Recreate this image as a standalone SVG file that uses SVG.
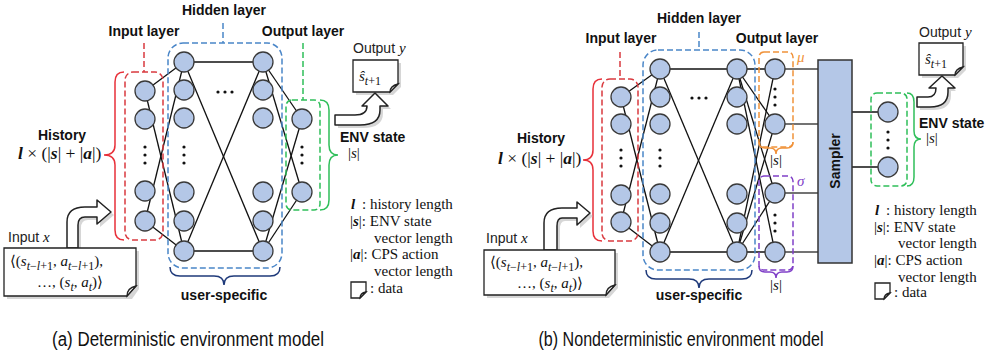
<svg xmlns="http://www.w3.org/2000/svg" width="986" height="360" viewBox="0 0 986 360">
<style>
.node{fill:#b4c7e7;stroke:#3a3a3a;stroke-width:1.3}
.ln{stroke:#111;stroke-width:1.3;fill:none}
.ln2{stroke:#444;stroke-width:1.6;fill:none}
.dot{fill:#111}
.lbl{font-family:"Liberation Sans",Arial,sans-serif;font-weight:bold;font-size:14px;fill:#111}
.sans{font-family:"Liberation Sans",Arial,sans-serif;font-size:14px;fill:#222}
.serif{font-family:"Liberation Serif","DejaVu Serif",serif;font-size:15px;fill:#111}
.math{font-size:17.5px}
.bi{font-weight:bold;font-style:italic}
.it{font-style:italic}
.dash{fill:none;stroke-width:1.5;stroke-dasharray:6 3}
.brace{fill:none;stroke-width:1.5}
.doc{fill:#fff;stroke:#222;stroke-width:1.3}
.arrow{fill:#fff;stroke:#222;stroke-width:1.5;stroke-linejoin:round}
.shadow{fill:#bbb;opacity:0.6}
.cap{font-family:"Liberation Sans",Arial,sans-serif;font-size:20px;fill:#111}
</style>
<defs>
<g id="dots3v"><circle class="dot" cx="0" cy="-8" r="1.6"/><circle class="dot" cx="0" cy="0" r="1.6"/><circle class="dot" cx="0" cy="8" r="1.6"/></g>
<g id="dots3h"><circle class="dot" cx="-7" cy="0" r="1.6"/><circle class="dot" cx="0" cy="0" r="1.6"/><circle class="dot" cx="7" cy="0" r="1.6"/></g>
</defs>

<!-- ===================== PANEL (a) ===================== -->
<g id="connectors-a">
<line class="ln" x1="145" y1="91" x2="184" y2="62"/>
<line class="ln" x1="145" y1="91" x2="184" y2="251"/>
<line class="ln" x1="145" y1="221" x2="184" y2="62"/>
<line class="ln" x1="145" y1="221" x2="184" y2="251"/>
<line class="ln" x1="184" y1="62" x2="263" y2="62"/>
<line class="ln" x1="184" y1="251" x2="263" y2="251"/>
<line class="ln" x1="184" y1="62" x2="263" y2="251"/>
<line class="ln" x1="184" y1="251" x2="263" y2="62"/>
<line class="ln" x1="263" y1="62" x2="302" y2="119"/>
<line class="ln" x1="263" y1="62" x2="302" y2="192"/>
<line class="ln" x1="263" y1="251" x2="302" y2="119"/>
<line class="ln" x1="263" y1="251" x2="302" y2="192"/>
</g>

<g id="groups-a">
<rect class="dash" x="125" y="72" width="38" height="168" rx="8" stroke="#d93a3f"/>
<line class="dash" x1="144" y1="43" x2="144" y2="72" stroke="#d93a3f"/>
<rect class="dash" x="168" y="43" width="114" height="225" rx="15" stroke="#4a86c8"/>
<line class="dash" x1="223" y1="23" x2="223" y2="43" stroke="#4a86c8"/>
<rect class="dash" x="286" y="100" width="34" height="110" rx="6" stroke="#2fbf5a"/>
<line class="dash" x1="303" y1="43" x2="303" y2="100" stroke="#2fbf5a"/>
<path class="brace" stroke="#e8313a" d="M124,72 Q115,72 115,82 L115,145 Q115,155 104,155 Q115,155 115,165 L115,230 Q115,240 124,240"/>
<path class="brace" stroke="#2fbf5a" d="M320,100 Q329,100 329,110 L329,145 Q329,155 338,155 Q329,155 329,165 L329,200 Q329,210 320,210"/>
<path class="brace" stroke="#1f3a7a" d="M170,267 Q170,276 180,276 L214,276 Q224,276 224,285 Q224,276 234,276 L270,276 Q280,276 280,267"/>
</g>

<g id="in-a1"><circle class="node" cx="145" cy="91" r="10"/></g>
<g id="in-a2"><circle class="node" cx="145" cy="119" r="10"/></g>
<g id="in-a3"><circle class="node" cx="145" cy="191" r="10"/></g>
<g id="in-a4"><circle class="node" cx="145" cy="221" r="10"/></g>
<use href="#dots3v" x="145" y="155"/>
<g id="h1-a1"><circle class="node" cx="184" cy="62" r="10"/></g>
<g id="h1-a2"><circle class="node" cx="184" cy="90" r="10"/></g>
<g id="h1-a3"><circle class="node" cx="184" cy="118" r="10"/></g>
<g id="h1-a4"><circle class="node" cx="184" cy="192" r="10"/></g>
<g id="h1-a5"><circle class="node" cx="184" cy="221" r="10"/></g>
<g id="h1-a6"><circle class="node" cx="184" cy="251" r="10"/></g>
<use href="#dots3v" x="184" y="155"/>
<g id="h2-a1"><circle class="node" cx="263" cy="62" r="10"/></g>
<g id="h2-a2"><circle class="node" cx="263" cy="90" r="10"/></g>
<g id="h2-a3"><circle class="node" cx="263" cy="118" r="10"/></g>
<g id="h2-a4"><circle class="node" cx="263" cy="192" r="10"/></g>
<g id="h2-a5"><circle class="node" cx="263" cy="221" r="10"/></g>
<g id="h2-a6"><circle class="node" cx="263" cy="251" r="10"/></g>
<use href="#dots3h" x="225" y="92"/>
<g id="out-a1"><circle class="node" cx="302" cy="119" r="10"/></g>
<g id="out-a2"><circle class="node" cx="302" cy="192" r="10"/></g>
<use href="#dots3v" x="302" y="155"/>

<g id="labels-a">
<text class="lbl" x="144" y="36" text-anchor="middle">Input layer</text>
<text class="lbl" x="224" y="15" text-anchor="middle">Hidden layer</text>
<text class="lbl" x="303" y="36" text-anchor="middle">Output layer</text>
<text class="lbl" x="224" y="300" text-anchor="middle">user-specific</text>
<text class="lbl" x="62" y="140" text-anchor="middle">History</text>
<text class="serif math" x="18" y="159"><tspan class="bi">l</tspan> × (|<tspan class="bi">s</tspan>| + |<tspan class="bi">a</tspan>|)</text>
<text class="lbl" x="340" y="142">ENV state</text>
<text class="serif" x="348" y="158" font-size="16">|<tspan class="it">s</tspan>|</text>
</g>

<g id="output-a">
<text class="sans" x="353" y="53">Output <tspan class="serif it" font-size="16">y</tspan></text>
<path class="shadow" d="M356,63 H401 V87 L393,95 H356 Z"/>
<path class="doc" d="M353,60 H398 V84 L390,92 H353 Z"/>
<path class="doc" d="M398,84 L390,92 Q390,86 398,84 Z"/>
<text class="serif" x="359" y="81" font-size="16"><tspan class="it">ŝ</tspan><tspan class="it" font-size="12" dy="4">t</tspan><tspan font-size="12">+1</tspan></text>
<path class="shadow" d="M338,118 H358 Q370,118 370,109 L365,109 L378,96 L391,109 L383,109 L383,113 Q383,128 363,128 H338 Z"/>
<path class="arrow" d="M335,115 H355 Q367,115 367,106 L362,106 L375,93 L388,106 L380,106 L380,110 Q380,125 360,125 H335 Z"/>
</g>

<g id="input-a">
<text class="sans" x="8" y="242">Input <tspan class="serif it" font-size="16">x</tspan></text>
<path class="shadow" d="M70,251 V225 Q70,210 88,210 H100 V203 L114,215 L100,227 V220 H88 Q81,220 81,228 V251 Z"/>
<path class="arrow" d="M67,248 V222 Q67,207 85,207 H97 V200 L111,212 L97,224 V217 H85 Q78,217 78,225 V248 Z"/>
<path class="shadow" d="M7,251 H139 V289 L132,299 H7 Z"/>
<path class="doc" d="M4,248 H136 V286 L127,296 H4 Z"/>
<path class="doc" d="M136,286 L127,296 Q127,288 136,286 Z"/>
<text class="serif" x="10" y="266" font-size="17.5">⟨(<tspan class="it">s</tspan><tspan class="it" font-size="12" dy="4">t</tspan><tspan font-size="12">−</tspan><tspan class="it" font-size="12">l</tspan><tspan font-size="12">+1</tspan><tspan dy="-4">, </tspan><tspan class="it">a</tspan><tspan class="it" font-size="12" dy="4">t</tspan><tspan font-size="12">−</tspan><tspan class="it" font-size="12">l</tspan><tspan font-size="12">+1</tspan><tspan dy="-4">),</tspan></text>
<text class="serif" x="70" y="287" font-size="17.5" text-anchor="middle">…, (<tspan class="it">s</tspan><tspan class="it" font-size="12" dy="4">t</tspan><tspan dy="-4">, </tspan><tspan class="it">a</tspan><tspan class="it" font-size="12" dy="4">t</tspan><tspan dy="-4">)⟩</tspan></text>
</g>

<g id="legend-a" class="serif" font-size="14.5">
<text x="351" y="209"><tspan class="bi">l</tspan></text>
<text x="362" y="209">: history length</text>
<text x="350" y="226">|<tspan class="bi">s</tspan>|: ENV state</text>
<text x="374" y="243">vector length</text>
<text x="350" y="259">|<tspan class="bi">a</tspan>|: CPS action</text>
<text x="374" y="276">vector length</text>
<path class="doc" d="M351,282 H366 V292 L360,298 H351 Z"/>
<path class="doc" d="M366,292 L360,298 Q360,293 366,292 Z"/>
<text x="370" y="293">: data</text>
</g>

<!-- ===================== PANEL (b) ===================== -->
<g id="connectors-b">
<line class="ln" x1="621" y1="97" x2="660" y2="69"/>
<line class="ln" x1="621" y1="97" x2="660" y2="252"/>
<line class="ln" x1="621" y1="222" x2="660" y2="69"/>
<line class="ln" x1="621" y1="222" x2="660" y2="252"/>
<line class="ln" x1="660" y1="69" x2="737" y2="69"/>
<line class="ln" x1="660" y1="252" x2="737" y2="252"/>
<line class="ln" x1="660" y1="69" x2="737" y2="252"/>
<line class="ln" x1="660" y1="252" x2="737" y2="69"/>
<line class="ln" x1="737" y1="69" x2="775" y2="69"/>
<line class="ln" x1="737" y1="69" x2="775" y2="124"/>
<line class="ln" x1="737" y1="69" x2="775" y2="193"/>
<line class="ln" x1="737" y1="69" x2="775" y2="252"/>
<line class="ln" x1="737" y1="252" x2="775" y2="69"/>
<line class="ln" x1="737" y1="252" x2="775" y2="124"/>
<line class="ln" x1="737" y1="252" x2="775" y2="193"/>
<line class="ln" x1="737" y1="252" x2="775" y2="252"/>
<line class="ln2" x1="775" y1="69" x2="818" y2="69"/>
<line class="ln2" x1="775" y1="124" x2="818" y2="124"/>
<line class="ln2" x1="775" y1="193" x2="818" y2="193"/>
<line class="ln2" x1="775" y1="252" x2="818" y2="252"/>
<line class="ln" x1="852" y1="112" x2="888" y2="112"/>
<line class="ln" x1="852" y1="167" x2="888" y2="167"/>
</g>

<g id="groups-b">
<rect class="dash" x="602" y="79" width="36" height="162" rx="8" stroke="#d93a3f"/>
<line class="dash" x1="620" y1="52" x2="620" y2="79" stroke="#d93a3f"/>
<rect class="dash" x="643" y="50" width="112" height="220" rx="15" stroke="#4a86c8"/>
<line class="dash" x1="699" y1="32" x2="699" y2="50" stroke="#4a86c8"/>
<rect class="dash" x="759" y="52" width="34" height="95" rx="5" stroke="#f0923a"/>
<rect class="dash" x="759" y="176" width="34" height="94" rx="5" stroke="#8040c8"/>
<rect class="dash" x="871" y="93" width="36" height="93" rx="6" stroke="#2fbf5a"/>
<path class="brace" stroke="#e8313a" d="M602,79 Q593,79 593,89 L593,150 Q593,160 583,160 Q593,160 593,170 L593,231 Q593,241 602,241"/>
<path class="brace" stroke="#2fbf5a" d="M907,93 Q914,93 914,102 L914,131 Q914,139 921,139 Q914,139 914,147 L914,177 Q914,186 907,186"/>
<path class="brace" stroke="#1f3a7a" d="M646,270 Q646,279 656,279 L689,279 Q699,279 699,288 Q699,279 709,279 L742,279 Q752,279 752,270"/>
<path class="brace" stroke="#f0923a" d="M759,142 Q759,148 765,148 L770,148 Q776,148 776,154 Q776,148 782,148 L787,148 Q793,148 793,142"/>
<path class="brace" stroke="#8040c8" d="M759,266 Q759,272 765,272 L770,272 Q776,272 776,278 Q776,272 782,272 L787,272 Q793,272 793,266"/>
</g>

<g id="in-b1"><circle class="node" cx="621" cy="97" r="10"/></g>
<g id="in-b2"><circle class="node" cx="621" cy="124" r="10"/></g>
<g id="in-b3"><circle class="node" cx="621" cy="195" r="10"/></g>
<g id="in-b4"><circle class="node" cx="621" cy="222" r="10"/></g>
<use href="#dots3v" x="621" y="158"/>
<g id="h1-b1"><circle class="node" cx="660" cy="69" r="10"/></g>
<g id="h1-b2"><circle class="node" cx="660" cy="97" r="10"/></g>
<g id="h1-b3"><circle class="node" cx="660" cy="124" r="10"/></g>
<g id="h1-b4"><circle class="node" cx="660" cy="194" r="10"/></g>
<g id="h1-b5"><circle class="node" cx="660" cy="223" r="10"/></g>
<g id="h1-b6"><circle class="node" cx="660" cy="252" r="10"/></g>
<use href="#dots3v" x="660" y="158"/>
<g id="h2-b1"><circle class="node" cx="737" cy="69" r="10"/></g>
<g id="h2-b2"><circle class="node" cx="737" cy="97" r="10"/></g>
<g id="h2-b3"><circle class="node" cx="737" cy="124" r="10"/></g>
<g id="h2-b4"><circle class="node" cx="737" cy="194" r="10"/></g>
<g id="h2-b5"><circle class="node" cx="737" cy="223" r="10"/></g>
<g id="h2-b6"><circle class="node" cx="737" cy="252" r="10"/></g>
<use href="#dots3h" x="699" y="98"/>
<g id="mu-b1"><circle class="node" cx="775" cy="69" r="10"/></g>
<g id="mu-b2"><circle class="node" cx="775" cy="124" r="10"/></g>
<use href="#dots3v" x="775" y="97"/>
<g id="sigma-b1"><circle class="node" cx="775" cy="193" r="10"/></g>
<g id="sigma-b2"><circle class="node" cx="775" cy="252" r="10"/></g>
<use href="#dots3v" x="775" y="223"/>
<g id="sampler"><rect x="818" y="60" width="34" height="203" fill="#b4c7e7" stroke="#333" stroke-width="1.5"/>
<text class="lbl" transform="translate(840,161) rotate(-90)" text-anchor="middle">Sampler</text></g>
<g id="env-b1"><circle class="node" cx="888" cy="112" r="10"/></g>
<g id="env-b2"><circle class="node" cx="888" cy="167" r="10"/></g>
<use href="#dots3v" x="888" y="140"/>

<g id="labels-b">
<text class="lbl" x="621" y="43" text-anchor="middle">Input layer</text>
<text class="lbl" x="699" y="23" text-anchor="middle">Hidden layer</text>
<text class="lbl" x="777" y="43" text-anchor="middle">Output layer</text>
<text class="lbl" x="699" y="300" text-anchor="middle">user-specific</text>
<text class="lbl" x="541" y="143" text-anchor="middle">History</text>
<text class="serif math" x="498" y="164"><tspan class="bi">l</tspan> × (|<tspan class="bi">s</tspan>| + |<tspan class="bi">a</tspan>|)</text>
<text class="serif it" x="797" y="62" font-size="16" style="fill:#f0923a">μ</text>
<text class="serif it" x="797" y="186" font-size="16" style="fill:#8040c8">σ</text>
<text class="serif" x="776" y="165" font-size="16" text-anchor="middle">|<tspan class="it">s</tspan>|</text>
<text class="serif" x="776" y="290" font-size="16" text-anchor="middle">|<tspan class="it">s</tspan>|</text>
<text class="lbl" x="919" y="128">ENV state</text>
<text class="serif" x="926" y="143" font-size="16">|<tspan class="it">s</tspan>|</text>
</g>

<g id="output-b">
<text class="sans" x="919" y="37">Output <tspan class="serif it" font-size="16">y</tspan></text>
<path class="shadow" d="M922,46 H966 V70 L958,78 H922 Z"/>
<path class="doc" d="M919,43 H963 V67 L955,75 H919 Z"/>
<path class="doc" d="M963,67 L955,75 Q955,69 963,67 Z"/>
<text class="serif" x="925" y="64" font-size="16"><tspan class="it">ŝ</tspan><tspan class="it" font-size="12" dy="4">t</tspan><tspan font-size="12">+1</tspan></text>
<path class="shadow" d="M920,100 H938 Q939,100 939,91 L935,91 L945,80 L956,91 L951,91 L951,95 Q951,110 933,110 H920 Z"/>
<path class="arrow" d="M917,97 H928 Q936,97 936,88 L929,88 L942,76 L955,88 L948,88 L948,92 Q948,107 930,107 H917 Z"/>
</g>

<g id="input-b">
<text class="sans" x="486" y="243">Input <tspan class="serif it" font-size="16">x</tspan></text>
<path class="shadow" d="M547,253 V226 Q547,211 565,211 H580 V205 L593,216 L580,228 V221 H565 Q560,221 560,229 V253 Z"/>
<path class="arrow" d="M544,250 V223 Q544,208 562,208 H577 V202 L590,213 L577,225 V218 H562 Q557,218 557,226 V250 Z"/>
<path class="shadow" d="M487,253 H618 V288 L609,298 H487 Z"/>
<path class="doc" d="M484,250 H615 V285 L606,295 H484 Z"/>
<path class="doc" d="M615,285 L606,295 Q606,287 615,285 Z"/>
<text class="serif" x="490" y="267" font-size="17.5">⟨(<tspan class="it">s</tspan><tspan class="it" font-size="12" dy="4">t</tspan><tspan font-size="12">−</tspan><tspan class="it" font-size="12">l</tspan><tspan font-size="12">+1</tspan><tspan dy="-4">, </tspan><tspan class="it">a</tspan><tspan class="it" font-size="12" dy="4">t</tspan><tspan font-size="12">−</tspan><tspan class="it" font-size="12">l</tspan><tspan font-size="12">+1</tspan><tspan dy="-4">),</tspan></text>
<text class="serif" x="550" y="288" font-size="17.5" text-anchor="middle">…, (<tspan class="it">s</tspan><tspan class="it" font-size="12" dy="4">t</tspan><tspan dy="-4">, </tspan><tspan class="it">a</tspan><tspan class="it" font-size="12" dy="4">t</tspan><tspan dy="-4">)⟩</tspan></text>
</g>

<g id="legend-b" class="serif" font-size="14.5">
<text x="875" y="215"><tspan class="bi">l</tspan></text>
<text x="886" y="215">: history length</text>
<text x="874" y="232">|<tspan class="bi">s</tspan>|: ENV state</text>
<text x="898" y="248">vector length</text>
<text x="874" y="265">|<tspan class="bi">a</tspan>|: CPS action</text>
<text x="898" y="282">vector length</text>
<path class="doc" d="M875,283 H890 V293 L884,299 H875 Z"/>
<path class="doc" d="M890,293 L884,299 Q884,294 890,293 Z"/>
<text x="894" y="297">: data</text>
</g>

<g id="captions">
<text class="cap" x="188" y="346" text-anchor="middle" textLength="272" lengthAdjust="spacingAndGlyphs">(a) Deterministic environment model</text>
<text class="cap" x="681" y="346" text-anchor="middle" textLength="285" lengthAdjust="spacingAndGlyphs">(b) Nondeterministic environment model</text>
</g>
</svg>
